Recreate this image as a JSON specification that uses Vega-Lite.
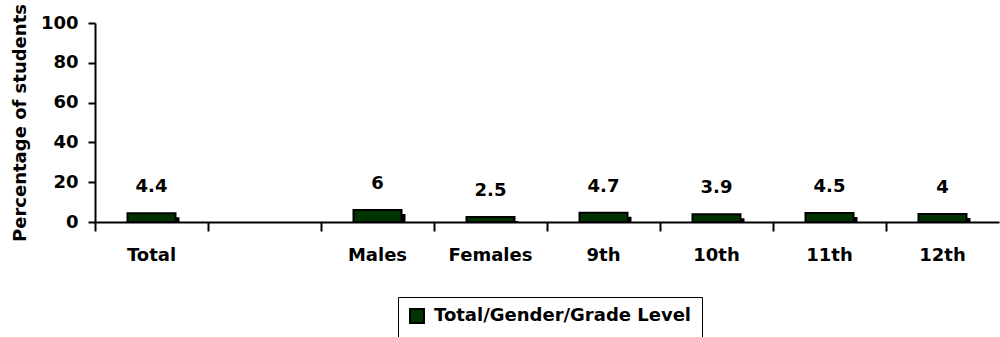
{
  "$schema": "https://vega.github.io/schema/vega-lite/v6.json",
  "width": 904,
  "height": 199,
  "autosize": {"type": "none"},
  "padding": {"left": 95, "top": 23, "right": 1, "bottom": 115},
  "background": "white",
  "config": {
    "view": {"stroke": null},
    "font": "DejaVu Sans",
    "axis": {
      "labelFont": "DejaVu Sans", "labelFontWeight": "bold", "labelFontSize": 18, "labelColor": "black",
      "titleFont": "DejaVu Sans", "titleFontWeight": "bold", "titleFontSize": 18, "titleColor": "black",
      "domainColor": "black", "domainWidth": 2, "tickColor": "black", "tickWidth": 2, "grid": false
    }
  },
  "data": {
    "values": [
      {"cat": "Total", "value": 4.4, "series": "Total/Gender/Grade Level"},
      {"cat": "Males", "value": 6, "series": "Total/Gender/Grade Level"},
      {"cat": "Females", "value": 2.5, "series": "Total/Gender/Grade Level"},
      {"cat": "9th", "value": 4.7, "series": "Total/Gender/Grade Level"},
      {"cat": "10th", "value": 3.9, "series": "Total/Gender/Grade Level"},
      {"cat": "11th", "value": 4.5, "series": "Total/Gender/Grade Level"},
      {"cat": "12th", "value": 4, "series": "Total/Gender/Grade Level"}
    ]
  },
  "encoding": {
    "x": {
      "field": "cat", "type": "nominal",
      "scale": {"domain": ["Total", "blank", "Males", "Females", "9th", "10th", "11th", "12th"], "paddingInner": 0, "paddingOuter": 0},
      "axis": {"title": null, "labelAngle": 0, "bandPosition": 0, "tickSize": 9, "labelPadding": 15, "labelExpr": "datum.value == 'blank' ? '' : datum.value"}
    },
    "y": {
      "field": "value", "type": "quantitative",
      "scale": {"domain": [0, 100], "nice": false},
      "axis": {"title": "Percentage of students", "values": [0, 20, 40, 60, 80, 100], "tickSize": 7, "labelPadding": 10, "titlePadding": 11}
    }
  },
  "layer": [
    {
      "mark": {"type": "bar", "width": 48, "color": "black", "xOffset": 4, "yOffset": 4, "y2Offset": 0},
      "encoding": {"y2": {"datum": 0}}
    },
    {
      "mark": {"type": "bar", "width": 48, "stroke": "black", "strokeWidth": 2},
      "encoding": {
        "color": {
          "field": "series", "type": "nominal",
          "scale": {"range": ["#003300"]},
          "legend": {
            "title": null, "orient": "none", "legendX": 303, "legendY": 274,
            "symbolType": "square", "symbolSize": 196, "symbolStrokeColor": "black", "symbolStrokeWidth": 2,
            "symbolFillColor": "#003300",
            "labelFont": "DejaVu Sans", "labelFontWeight": "bold", "labelFontSize": 18, "labelColor": "black",
            "labelLimit": 400, "labelOffset": 8,
            "padding": 10, "strokeColor": "black"
          }
        }
      }
    },
    {
      "mark": {"type": "text", "dy": -26, "font": "DejaVu Sans", "fontWeight": "bold", "fontSize": 18, "color": "black", "baseline": "middle"},
      "encoding": {"text": {"field": "value", "type": "quantitative"}}
    }
  ]
}
